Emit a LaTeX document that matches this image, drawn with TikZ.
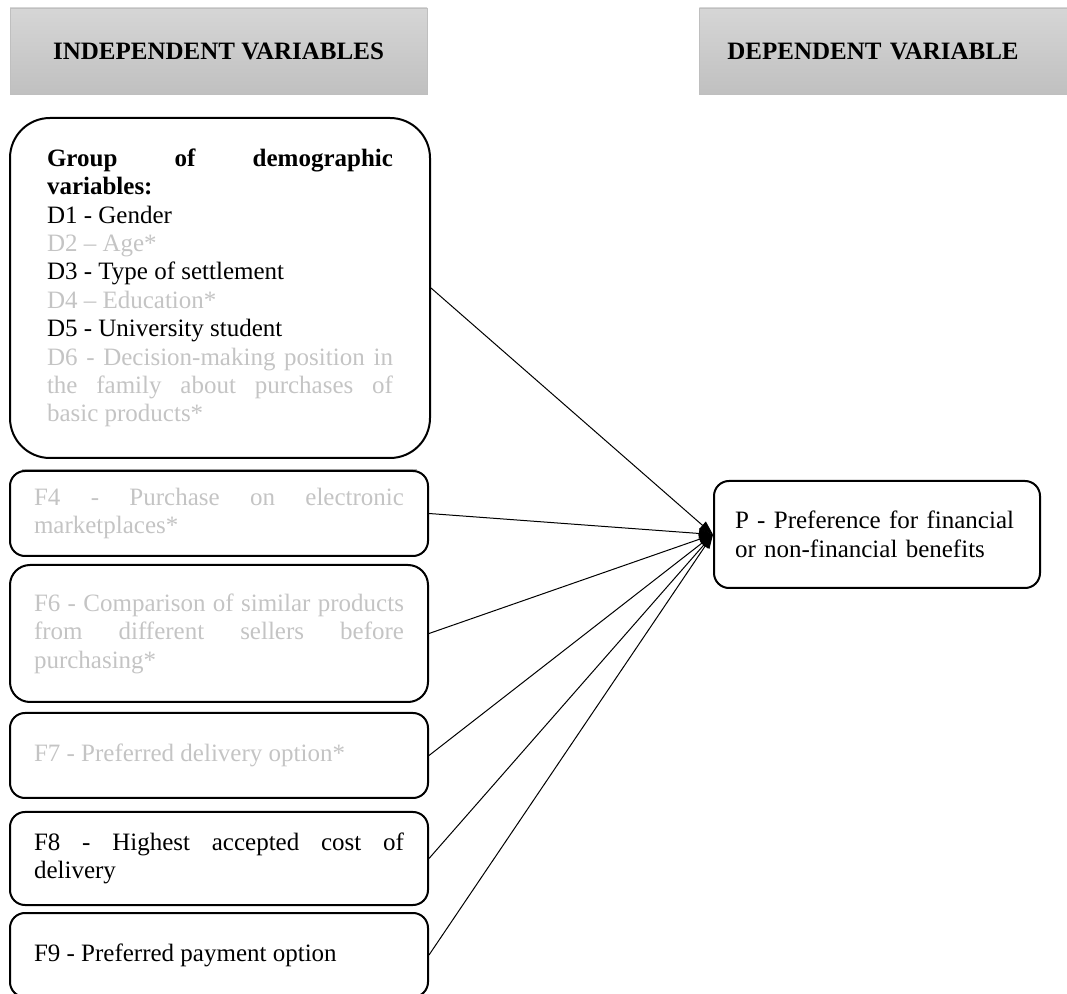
\documentclass[tikz,border=0pt]{standalone}
\usepackage{fontspec}
\setmainfont{Liberation Serif}
\usetikzlibrary{arrows.meta}
\definecolor{faded}{HTML}{C4C4C4}
\definecolor{headtop}{HTML}{D6D6D6}
\definecolor{headbot}{HTML}{C0C0C0}
\tikzset{
  head/.style={draw=gray!50,top color=headtop,bottom color=headbot,minimum height=43pt,font=\fontsize{12.5}{15}\selectfont\bfseries},
  varbox/.style={draw,line width=1pt,rounded corners=7.5pt,minimum width=209pt,text width=185pt,align=justify,font=\fontsize{12.5}{14.2}\selectfont},
  link/.style={-{Triangle[length=7pt,width=5pt]},line width=0.5pt}
}
\begin{document}
\begin{tikzpicture}[x=0.5pt,y=-0.5pt]
\useasboundingbox (0,0) rectangle (1067,994);
\node[head,minimum width=208.5pt] (hind) at (218.5,51) {INDEPENDENT VARIABLES};
\node[head,anchor=west,text width=162.5pt,inner xsep=14pt,align=left] (hdep) at (699,51) {DEPENDENT VARIABLE};
\node[varbox,rounded corners=20pt,minimum width=210pt,text width=173pt,minimum height=170pt] (demo) at (220,288)
 {{\bfseries Group of demographic\linebreak variables:}\\
  D1 - Gender\\
  \textcolor{faded}{D2 -- Age*}\\
  D3 - Type of settlement\\
  \textcolor{faded}{D4 -- Education*}\\
  D5 - University student\\
  \textcolor{faded}{D6 - Decision-making position in\linebreak the family about purchases of\linebreak basic products*}};
\draw[gray!60] (22,469) -- (417,469);
\node[varbox,minimum height=42.5pt,text=faded] (f4) at (219,513.5) {F4 - Purchase on electronic\linebreak marketplaces*};
\node[varbox,rounded corners=10pt,minimum height=68.5pt,text=faded] (f6) at (219,633.5) {F6 - Comparison of similar products\linebreak from different sellers before\linebreak purchasing*};
\node[varbox,minimum height=42.5pt,text=faded] (f7) at (219,755.5) {F7 - Preferred delivery option*};
\node[varbox,minimum height=46.5pt] (f8) at (219,858.5) {F8 - Highest accepted cost of\linebreak delivery};
\node[varbox,minimum height=42pt] (f9) at (219,955) {F9 - Preferred payment option};
\node[varbox,minimum width=163pt,text width=142pt,minimum height=53.5pt,align=left] (pref) at (877,534.5) {P - Preference for financial\\ or non-financial benefits};
\foreach \src in {demo,f4,f6,f7,f8,f9}
  \draw[link] (\src.east) -- (pref.west);
\end{tikzpicture}
\end{document}
